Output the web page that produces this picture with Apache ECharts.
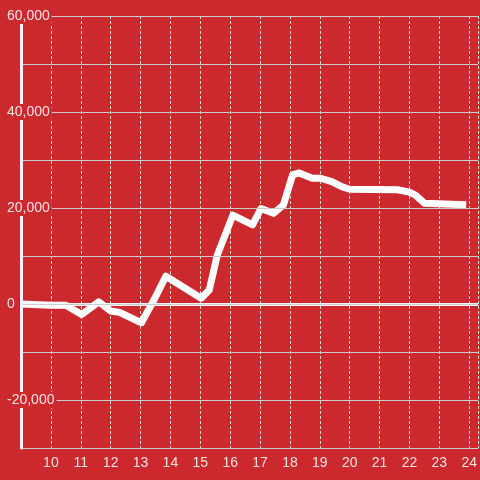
<!DOCTYPE html>
<html>
<head>
<meta charset="utf-8">
<script src="https://cdn.jsdelivr.net/npm/echarts@6/dist/echarts.min.js"></script>
<style>
html,body{margin:0;padding:0;background:#cc292e;}
#c{width:480px;height:480px;}
</style>
</head>
<body>
<div id="c"></div>
<script>
var hours = [9, 10, 10.5, 11.03, 11.6, 12.0, 12.3, 13.03, 13.48, 13.85, 15.03, 15.3, 15.57, 16.09, 16.75, 17.03, 17.45, 17.78, 18.09, 18.31, 18.75, 19.03, 19.4, 19.75, 20.0, 21.6, 22.0, 22.2, 22.5, 23.9];
var values = [0, -250, -250, -2200, 450, -1450, -1750, -3900, 1200, 5800, 1200, 2900, 10200, 18500, 16500, 19900, 18900, 20600, 26900, 27300, 26200, 26200, 25500, 24400, 23900, 23800, 23300, 22700, 21000, 20700];
var xTicks = [10, 11, 12, 13, 14, 15, 16, 17, 18, 19, 20, 21, 22, 23, 24];
var yLabelValues = [60000, 40000, 20000, 0, -20000];

var pts = hours.map(function (h, i) { return [h, values[i]]; });
var txt = '#f3e2e2';
var font = 'Liberation Sans';

var chart = echarts.init(document.getElementById('c'));
chart.setOption({
  backgroundColor: '#cc292e',
  animation: false,
  grid: { left: 21, right: 0, top: 16, bottom: 32, containLabel: false },
  xAxis: {
    type: 'value', min: 9, max: 24.3, interval: 1,
    axisLine: { show: false }, axisTick: { show: false },
    axisLabel: {
      color: txt, fontSize: 14, fontFamily: font, margin: 8,
      showMinLabel: false, showMaxLabel: false,
      formatter: function (v) { return xTicks.indexOf(v) >= 0 ? String(v) : ''; }
    },
    splitLine: { show: true, lineStyle: { color: '#e6d6d6', width: 1, type: [3, 2] } }
  },
  yAxis: {
    type: 'value', min: -30000, max: 60000, interval: 10000,
    axisLine: { show: true, lineStyle: { color: '#f4f4f4', width: 3 } },
    axisTick: { show: false },
    axisLabel: {
      margin: 15, align: 'left',
      formatter: function (v) {
        if (yLabelValues.indexOf(v) < 0) return '';
        return '{a|' + v.toLocaleString('en-US') + '}';
      },
      rich: { a: { color: txt, fontSize: 14, fontFamily: font, backgroundColor: '#cc292e', padding: [1, 2, 1, 1] } }
    },
    splitLine: { show: true, lineStyle: { color: '#cccccc', width: 1 } },
    z: 3
  },
  series: [{
    type: 'line', data: pts, showSymbol: false, symbol: 'none',
    lineStyle: { color: '#ffffff', width: 7, join: 'round' },
    markLine: {
      silent: true, symbol: 'none', label: { show: false },
      lineStyle: { color: '#f4f4f4', width: 3, type: 'solid' },
      data: [{ yAxis: 0 }], z: 1
    },
    z: 2
  }]
});
</script>
</body>
</html>
